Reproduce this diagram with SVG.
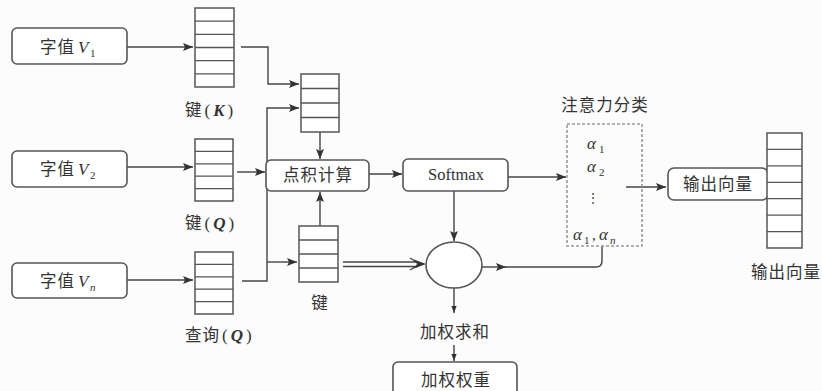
<svg xmlns="http://www.w3.org/2000/svg" width="822" height="391" viewBox="0 0 822 391">
<style>
.bg{fill:#fcfcfc}
.box{fill:#fff;stroke:#555;stroke-width:1.6}
.stk{fill:#fff;stroke:#555;stroke-width:1.5}
.row{stroke:#555;stroke-width:1.3}
.ln{fill:none;stroke:#444;stroke-width:1.4}
.zh{font-family:"Noto Sans CJK SC","Noto Sans CJK JP",sans-serif;font-size:16.5px;fill:#333;letter-spacing:1px}
.lab{letter-spacing:3px}
.it{font-family:"Liberation Serif",serif;font-style:italic;fill:#333}
.sub{font-family:"Liberation Serif",serif;fill:#333;font-size:11px}
.rm{font-family:"Liberation Serif",serif;fill:#333}
.par{font-family:"Liberation Serif",serif;font-size:17px}
</style>
<defs>
<marker id="ah" viewBox="0 0 10 8" refX="10" refY="4" markerWidth="10" markerHeight="8" markerUnits="userSpaceOnUse" orient="auto">
<path d="M0,0 L10,4 L0,8 L2,4 Z" fill="#333"/>
</marker>
<marker id="ahs" viewBox="0 0 8 6" refX="8" refY="3" markerWidth="7" markerHeight="6" markerUnits="userSpaceOnUse" orient="auto">
<path d="M0,0 L8,3 L0,6 Z" fill="#333"/>
</marker>
</defs>
<rect class="bg" x="0" y="0" width="822" height="391"/>

<g id="connectors">
<path class="ln" d="M127,47 H193" marker-end="url(#ah)"/>
<path class="ln" d="M127,167 H193" marker-end="url(#ah)"/>
<path class="ln" d="M127,280 H193" marker-end="url(#ah)"/>
<path class="ln" d="M241,47 H268 V84 H299" marker-end="url(#ah)"/>
<path class="ln" d="M237,172 H265" marker-end="url(#ah)"/>
<path class="ln" d="M242,281 H267 V108 H299" marker-end="url(#ah)"/>
<path class="ln" d="M267,262 H297" marker-end="url(#ah)"/>
<path class="ln" d="M320,226 V192" marker-end="url(#ah)"/>
<path class="ln" d="M320,132 V159" marker-end="url(#ah)"/>
<path class="ln" d="M369,174 H402" marker-end="url(#ah)"/>
<path class="ln" d="M508,177 H566" marker-end="url(#ah)"/>
<path class="ln" d="M454,191 V241" marker-end="url(#ah)"/>
<path class="ln" d="M343,262 H418 M343,266.5 H418 M410,258 L420,264 L410,270"/>
<path d="M414,259.5 L426,264 L414,268.5 L417,264 Z" fill="#333"/>
<path class="ln" d="M482,267 H506" marker-end="url(#ah)"/>
<path class="ln" d="M504,267 H596 Q602,267 602,261 V246"/>
<path class="ln" d="M454,288 V313" marker-end="url(#ahs)"/>
<path class="ln" d="M454,345 V361" marker-end="url(#ahs)"/>
<path class="ln" d="M626,187 H666" marker-end="url(#ah)"/>
</g>

<g id="v1">
<rect class="box" x="12" y="28" width="115" height="36" rx="5"/>
<text class="zh" x="40" y="53">字值</text>
<text class="it" x="78" y="53" font-size="17">V</text>
<text class="sub" x="90" y="57">1</text>
</g>
<g id="v2">
<rect class="box" x="12" y="151" width="115" height="36" rx="5"/>
<text class="zh" x="40" y="175">字值</text>
<text class="it" x="78" y="175" font-size="17">V</text>
<text class="sub" x="90" y="179">2</text>
</g>
<g id="vn">
<rect class="box" x="12" y="263" width="115" height="35" rx="5"/>
<text class="zh" x="40" y="287">字值</text>
<text class="it" x="78" y="287" font-size="17">V</text>
<text class="sub" x="90" y="291" font-style="italic">n</text>
</g>

<g id="stack-k">
<rect class="stk" x="195" y="8" width="39" height="79"/>
<path class="row" d="M195,21.2 H234 M195,34.3 H234 M195,47.5 H234 M195,60.7 H234 M195,73.8 H234"/>
<text class="zh lab" x="185" y="116">键<tspan class="par">(</tspan><tspan class="it" font-weight="bold" font-size="17">K</tspan><tspan class="par">)</tspan></text>
</g>
<g id="stack-q">
<rect class="stk" x="195" y="139" width="38" height="62"/>
<path class="row" d="M195,151.4 H233 M195,163.8 H233 M195,176.2 H233 M195,188.6 H233"/>
<text class="zh lab" x="185" y="229">键<tspan class="par">(</tspan><tspan class="it" font-weight="bold" font-size="17">Q</tspan><tspan class="par">)</tspan></text>
</g>
<g id="stack-query">
<rect class="stk" x="195" y="252" width="38" height="62"/>
<path class="row" d="M195,264.4 H233 M195,276.8 H233 M195,289.2 H233 M195,301.6 H233"/>
<text class="zh" x="185" y="341">查询<tspan class="par" dx="2">(</tspan><tspan class="it" font-weight="bold" font-size="17" dx="2">Q</tspan><tspan class="par" dx="2">)</tspan></text>
</g>
<g id="stack-merge">
<rect class="stk" x="301" y="74" width="38" height="58"/>
<path class="row" d="M301,88.5 H339 M301,103 H339 M301,117.5 H339"/>
</g>
<g id="stack-key">
<rect class="stk" x="299" y="226" width="39" height="56"/>
<path class="row" d="M299,240 H338 M299,254 H338 M299,268 H338"/>
<text class="zh" x="320" y="309" text-anchor="middle">键</text>
</g>
<g id="dot">
<rect class="box" x="266" y="160" width="103" height="31" rx="5"/>
<text class="zh" x="318" y="181" text-anchor="middle">点积计算</text>
</g>
<g id="softmax">
<rect class="box" x="403" y="159" width="105" height="32" rx="5"/>
<text class="rm" x="456" y="180" text-anchor="middle" font-size="16.5">Softmax</text>
</g>
<g id="sum">
<ellipse class="box" cx="454" cy="265" rx="28" ry="23"/>
<text class="zh" x="455" y="338" text-anchor="middle">加权求和</text>
</g>
<g id="weight">
<rect class="box" x="393" y="362" width="124" height="40" rx="5"/>
<text class="zh" x="456" y="386" text-anchor="middle">加权权重</text>
</g>
<g id="attention">
<rect x="567" y="124" width="75" height="122" fill="none" stroke="#999" stroke-width="1.6" stroke-dasharray="3,2"/>
<text class="zh" x="605" y="111" text-anchor="middle">注意力分类</text>
<text class="it" x="587" y="149" font-size="17">α</text><text class="sub" x="599" y="153">1</text>
<text class="it" x="587" y="172" font-size="17">α</text><text class="sub" x="599" y="176">2</text>
<text class="rm" x="593" y="202" font-size="12" text-anchor="middle">⋮</text>
<text class="it" x="573" y="240" font-size="17">α</text><text class="sub" x="584" y="244">1</text>
<text class="rm" x="592" y="240" font-size="15">,</text>
<text class="it" x="599" y="240" font-size="17">α</text><text class="sub" x="610" y="244" font-style="italic">n</text>
</g>
<g id="output">
<rect class="box" x="668" y="168" width="100" height="32" rx="6"/>
<text class="zh" x="718" y="190" text-anchor="middle">输出向量</text>
</g>
<g id="output-stack">
<rect class="stk" x="767" y="133" width="35" height="115"/>
<path class="row" d="M767,149.4 H802 M767,165.9 H802 M767,182.3 H802 M767,198.7 H802 M767,215.1 H802 M767,231.6 H802"/>
<text class="zh" x="786" y="278" text-anchor="middle">输出向量</text>
</g>
</svg>
